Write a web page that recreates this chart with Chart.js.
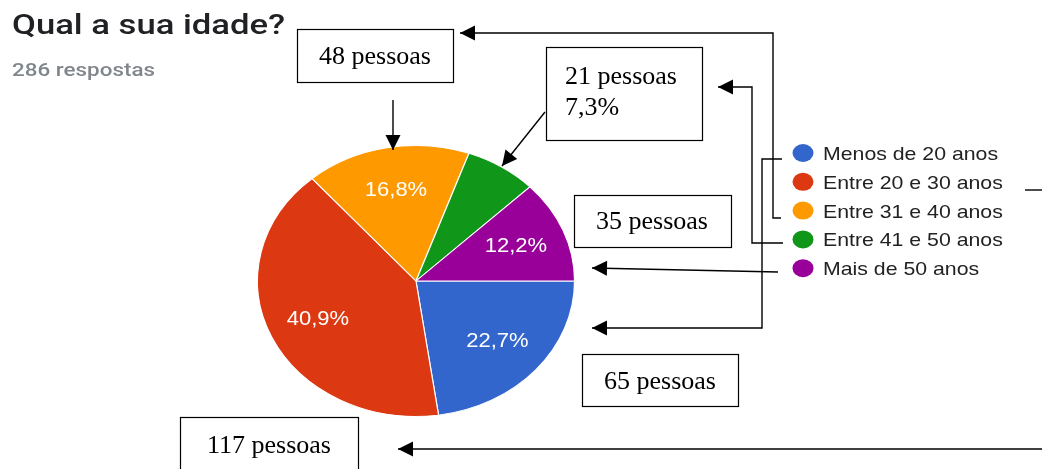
<!DOCTYPE html>
<html lang="pt">
<head>
<meta charset="utf-8">
<script src="https://cdn.jsdelivr.net/npm/chart.js@4.4.1/dist/chart.umd.min.js"></script>
<style>
  html, body { margin: 0; padding: 0; background: #fff; }
  #wrap { width: 1042px; height: 469px; }
</style>
</head>
<body>
<div id="wrap"><canvas id="idadeChart" width="1042" height="469"></canvas></div>
<script>
const titulo = "Qual a sua idade?";
const subtitulo = "286 respostas";
const faixas = ["Menos de 20 anos", "Entre 20 e 30 anos", "Entre 31 e 40 anos", "Entre 41 e 50 anos", "Mais de 50 anos"];
const respostas = [65, 117, 48, 21, 35];
const cores = ["#3366cc", "#dc3912", "#ff9900", "#109618", "#990099"];

const total = respostas.reduce((a, b) => a + b, 0);
const SX = 1.17; // a pizza original esta esticada na horizontal
const GX = 1.1;  // e o texto do google tambem

const pct = (v) => (v / total * 100).toFixed(1).replace(".", ",") + "%";

// texto com escala horizontal
function texto(ctx, str, x, y, font, color, sx, align, base) {
  ctx.save();
  ctx.font = font;
  ctx.fillStyle = color;
  ctx.textAlign = align || "left";
  ctx.textBaseline = base || "alphabetic";
  ctx.translate(x, y);
  ctx.scale(sx, 1);
  ctx.fillText(str, 0, 0);
  ctx.restore();
}

// texto ajustado a uma largura
function textoLarg(ctx, str, x, y, font, color, largura) {
  ctx.save();
  ctx.font = font;
  const w = ctx.measureText(str).width;
  ctx.restore();
  texto(ctx, str, x, y, font, color, largura / w);
}

function seta(ctx, pts) {
  ctx.save();
  ctx.strokeStyle = "#000";
  ctx.fillStyle = "#000";
  ctx.lineWidth = 1.4;
  ctx.beginPath();
  ctx.moveTo(pts[0][0], pts[0][1]);
  for (let i = 1; i < pts.length; i++) ctx.lineTo(pts[i][0], pts[i][1]);
  ctx.stroke();
  const [x1, y1] = pts[pts.length - 2];
  const [x2, y2] = pts[pts.length - 1];
  const a = Math.atan2(y2 - y1, x2 - x1);
  const L = 15, H = 7.5;
  ctx.beginPath();
  ctx.moveTo(x2, y2);
  ctx.lineTo(x2 - L * Math.cos(a) + H * Math.sin(a), y2 - L * Math.sin(a) - H * Math.cos(a));
  ctx.lineTo(x2 - L * Math.cos(a) - H * Math.sin(a), y2 - L * Math.sin(a) + H * Math.cos(a));
  ctx.closePath();
  ctx.fill();
  ctx.restore();
}

function linha(ctx, pts) {
  ctx.save();
  ctx.strokeStyle = "#000";
  ctx.lineWidth = 1.4;
  ctx.beginPath();
  ctx.moveTo(pts[0][0], pts[0][1]);
  for (let i = 1; i < pts.length; i++) ctx.lineTo(pts[i][0], pts[i][1]);
  ctx.stroke();
  ctx.restore();
}

function caixa(ctx, x, y, w, h, linhas, tx, ty, centro) {
  ctx.save();
  ctx.strokeStyle = "#000";
  ctx.lineWidth = 1.2;
  ctx.strokeRect(x + 0.5, y + 0.5, w, h);
  ctx.restore();
  linhas.forEach((l, i) => {
    texto(ctx, l, tx, ty + i * 31, "26px 'Liberation Serif'", "#000", 1, centro ? "center" : "left", "middle");
  });
}

const esticaPizza = {
  id: "esticaPizza",
  beforeDatasetsDraw(chart) {
    const arc = chart.getDatasetMeta(0).data[0];
    const ctx = chart.ctx;
    ctx.save();
    ctx.translate(arc.x, arc.y);
    ctx.scale(SX, 1);
    ctx.translate(-arc.x, -arc.y);
  },
  afterDatasetsDraw(chart) {
    const ctx = chart.ctx;
    ctx.restore();
    // rotulos de porcentagem
    chart.getDatasetMeta(0).data.forEach((arc, i) => {
      if (respostas[i] / total < 0.08) return;
      const mid = (arc.startAngle + arc.endAngle) / 2;
      const r = arc.outerRadius * 0.68;
      const x = arc.x + SX * r * Math.cos(mid);
      const y = arc.y + r * Math.sin(mid);
      texto(ctx, pct(respostas[i]), x, y, "20px 'Liberation Sans'", "#fff", GX, "center", "middle");
    });
  },
  afterDraw(chart) {
    const ctx = chart.ctx;
    // titulo
    textoLarg(ctx, titulo, 12, 34, "500 27px Roboto", "#202124", 273);
    textoLarg(ctx, subtitulo, 12, 76, "500 18px Roboto", "#80868b", 143);

    // legenda
    faixas.forEach((f, i) => {
      const y = 153 + i * 28.8;
      ctx.save();
      ctx.fillStyle = cores[i];
      ctx.beginPath();
      ctx.ellipse(803, y, 10.5, 9, 0, 0, Math.PI * 2);
      ctx.fill();
      ctx.restore();
      texto(ctx, f, 823, y + 7, "19px 'Liberation Sans'", "#222", 1.12);
    });

    // caixas de anotacao
    caixa(ctx, 297, 29, 156, 53, [respostas[2] + " pessoas"], 375, 57, true);
    caixa(ctx, 546, 47, 156, 93, [respostas[3] + " pessoas", pct(respostas[3])], 565, 77, false);
    caixa(ctx, 574, 195, 157, 52, [respostas[4] + " pessoas"], 652, 222, true);
    caixa(ctx, 582, 354, 156, 52, [respostas[0] + " pessoas"], 660, 382, true);
    caixa(ctx, 180, 417, 178, 60, [respostas[1] + " pessoas"], 269, 446, true);

    // setas
    seta(ctx, [[781, 218], [773, 218], [773, 33], [460, 33]]);
    seta(ctx, [[393, 100], [393, 150]]);
    seta(ctx, [[783, 243], [752, 243], [752, 87], [718, 87]]);
    seta(ctx, [[545, 112], [502, 166]]);
    seta(ctx, [[782, 159], [762, 159], [762, 328], [592, 328]]);
    seta(ctx, [[778, 272], [592, 268]]);
    linha(ctx, [[1025, 190], [1042, 190]]);
    seta(ctx, [[1042, 449], [398, 449]]);
  }
};

const ctx = document.getElementById("idadeChart").getContext("2d");
const idadeChart = new Chart(ctx, {
  type: "pie",
  data: {
    labels: faixas,
    datasets: [{
      data: respostas,
      backgroundColor: cores,
      borderColor: "#ffffff",
      borderWidth: 1,
    }],
  },
  options: {
    responsive: false,
    animation: false,
    events: [],
    rotation: 90,
    layout: { padding: { left: 280, right: 490, top: 145, bottom: 52 } },
    plugins: {
      legend: { display: false },
      tooltip: { enabled: false },
      title: { display: false },
    },
  },
  plugins: [esticaPizza],
});
</script>
</body>
</html>
